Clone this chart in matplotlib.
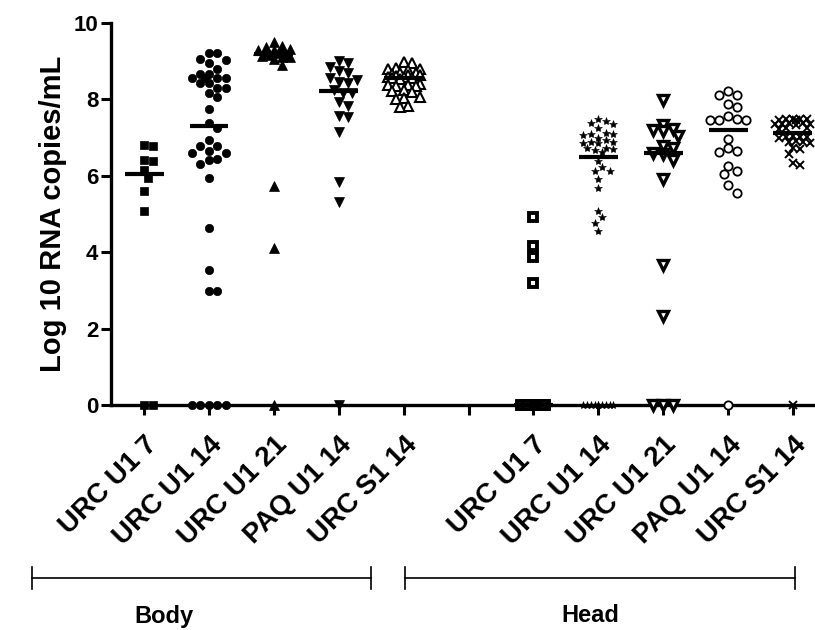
import numpy as np
import matplotlib
matplotlib.use('Agg')
import matplotlib.pyplot as plt
from matplotlib.lines import Line2D

plt.rcParams['font.family'] = ['Liberation Sans', 'DejaVu Sans']

# ---------------- data ----------------
body_labels = ['URC U1 7', 'URC U1 14', 'URC U1 21', 'PAQ U1 14', 'URC S1 14']
head_labels = ['URC U1 7', 'URC U1 14', 'URC U1 21', 'PAQ U1 14', 'URC S1 14']

body_urc_u1_7 = [6.81, 6.79, 6.42, 6.40, 6.15, 5.93, 5.60, 5.09, 0, 0]
body_urc_u1_14 = [9.22, 9.21, 9.05, 9.03, 8.94, 8.80, 8.66, 8.66, 8.55, 8.55, 8.55, 8.55,
                  8.44, 8.44, 8.29, 8.29, 8.16, 8.05, 7.75, 7.39, 7.24, 6.94, 6.78, 6.77,
                  6.64, 6.60, 6.60, 6.45, 6.41, 6.30, 5.93, 4.64, 3.53, 2.98, 2.98,
                  0, 0, 0, 0, 0]
body_urc_u1_21 = [9.51, 9.40, 9.38, 9.32, 9.29, 9.29, 9.29, 9.25, 9.22, 9.20, 9.16, 9.14,
                  9.12, 9.12, 9.05, 8.90, 5.72, 4.10, 0]
body_paq_u1_14 = [9.01, 8.94, 8.84, 8.75, 8.70, 8.57, 8.52, 8.46, 8.44, 8.25, 8.18, 8.18,
                  7.94, 7.83, 7.57, 7.53, 7.14, 5.85, 5.31, 0]
body_urc_s1_14 = [8.97, 8.95, 8.82, 8.80, 8.79, 8.77, 8.70, 8.68, 8.67, 8.65, 8.64, 8.60,
                  8.59, 8.58, 8.57, 8.56, 8.54, 8.40, 8.38, 8.37, 8.36, 8.34, 8.24, 8.22,
                  8.20, 8.06, 8.03, 8.01, 7.84, 7.80]

head_urc_u1_7 = [4.92, 4.17, 3.87, 3.19, 0, 0, 0, 0, 0, 0, 0, 0, 0, 0, 0, 0]
head_urc_u1_14 = [7.48, 7.44, 7.37, 7.36, 7.24, 7.13, 7.09, 7.09, 7.07, 7.00, 6.95, 6.89,
                  6.89, 6.87, 6.85, 6.72, 6.72, 6.69, 6.68, 6.61, 6.40, 6.22, 6.13, 6.13,
                  5.91, 5.69, 5.09, 4.91, 4.77, 4.55, 0, 0, 0, 0, 0, 0, 0, 0, 0, 0]
head_urc_u1_21 = [7.98, 7.33, 7.22, 7.20, 7.16, 7.03, 6.77, 6.72, 6.59, 6.57, 6.41, 5.91,
                  3.66, 2.33, 0, 0, 0]
head_paq_u1_14 = [8.22, 8.12, 8.12, 7.88, 7.81, 7.57, 7.48, 7.46, 7.46, 7.46, 6.96, 6.72,
                  6.66, 6.61, 6.26, 6.13, 6.04, 5.76, 5.56, 0]
head_urc_s1_14 = [7.50, 7.49, 7.48, 7.48, 7.47, 7.46, 7.38, 7.37, 7.36, 7.36, 7.35, 7.34,
                  7.25, 7.24, 7.23, 7.03, 7.02, 7.02, 7.01, 7.00, 6.90, 6.89, 6.88, 6.87,
                  6.73, 6.71, 6.57, 6.33, 6.28, 0]

groups = [body_urc_u1_7, body_urc_u1_14, body_urc_u1_21, body_paq_u1_14, body_urc_s1_14,
          None,
          head_urc_u1_7, head_urc_u1_14, head_urc_u1_21, head_paq_u1_14, head_urc_s1_14]
tick_labels = body_labels + [''] + head_labels

# marker styles: (marker, face, size, edge width, swarm spacing px)
styles = [('s', 'black', 5.5, 0.5, 8.5), ('o', 'black', 6.0, 0.5, 8.5),
          ('^', 'black', 6.5, 0.5, 8.0), ('v', 'black', 6.5, 0.5, 9.0),
          ('^', 'white', 6.5, 1.5, 8.0),
          None,
          ('s', 'white', 6.0, 2.8, 4.0), ('*', 'black', 6.0, 0.4, 7.5),
          ('v', 'white', 6.5, 2.4, 10.0), ('o', 'white', 6.0, 1.3, 9.0),
          ('x', 'black', 5.5, 1.4, 7.0)]

# ---------------- figure ----------------
W, H = 815, 630
fig = plt.figure(figsize=(W / 100, H / 100), dpi=100)
ax_l, ax_r, ax_t, ax_b = 111, 815, 23, 405
ax = fig.add_axes([ax_l / W, 1 - ax_b / H, (ax_r - ax_l) / W, (ax_b - ax_t) / H])
xmin, xmax = -0.51, 10.34
ax.set_xlim(xmin, xmax)
ax.set_ylim(0, 10)

px_x = (ax_r - ax_l) / (xmax - xmin)
px_y = (ax_b - ax_t) / 10.0


def swarm(vals, xc, diam=9.0, maxw=18.0):
    vals = np.asarray(vals, float)
    order = np.argsort(-vals, kind='stable')
    step = diam * 0.5
    cands = [0.0]
    k = 1
    while k * step <= maxw:
        cands += [k * step, -k * step]
        k += 1
    placed = []
    xs = np.zeros(len(vals))
    for i in order:
        y = vals[i] * px_y
        best, bestd = 0.0, -1
        for c in cands:
            d = min((np.hypot(c - p[0], y - p[1]) for p in placed), default=1e9)
            if d >= diam:
                best = c
                break
            if d > bestd:
                bestd, best = d, c
        placed.append((best, y))
        xs[i] = xc + best / px_x
    return xs


for i, (vals, st) in enumerate(zip(groups, styles)):
    if vals is None:
        continue
    vals = np.asarray(vals, float)
    mk, fc, ms, ew, sp = st
    xs = swarm(vals, i, diam=sp, maxw=15.0 if sp < 5 else 18.0)
    if mk == 'x':
        ax.plot(xs, vals, linestyle='none', marker=mk, color='black', ms=ms,
                mew=ew, clip_on=False, zorder=4)
    else:
        ax.plot(xs, vals, linestyle='none', marker=mk, mfc=fc, mec='black', ms=ms,
                mew=ew, clip_on=False, zorder=4)
    med = np.median(vals)
    ax.plot([i - 0.3, i + 0.3], [med, med], color='black', lw=3, zorder=5,
            solid_capstyle='butt', clip_on=False)

ax.set_xticks(range(11))
ax.set_xticklabels(tick_labels, rotation=45, ha='right', va='top',
                   rotation_mode='anchor', fontsize=20, fontweight='bold')
ax.set_yticks([0, 2, 4, 6, 8, 10])
ax.set_yticklabels(['0', '2', '4', '6', '8', '10'], fontsize=16, fontweight='bold')
ax.tick_params(axis='x', length=7, width=2.2, pad=12)
ax.tick_params(axis='y', length=7, width=2.2, pad=2)
for s in ['top', 'right']:
    ax.spines[s].set_visible(False)
for s in ['left', 'bottom']:
    ax.spines[s].set_linewidth(2.4)
ax.set_ylabel('Log 10 RNA copies/mL', fontsize=21, fontweight='bold', labelpad=5)

# group brackets
def bracket(x0, x1, y, label, lx):
    yf = 1 - y / H
    fig.add_artist(Line2D([x0 / W, x1 / W], [yf, yf], color='black', lw=1.2))
    for xx in (x0, x1):
        fig.add_artist(Line2D([xx / W, xx / W], [1 - 567 / H, 1 - 589 / H], color='black', lw=1.2))
    fig.text(lx / W, 1 - 616 / H, label, ha='center', va='center', fontsize=17,
             fontweight='bold')

bracket(32, 371, 578, 'Body', 164)
bracket(405, 795, 578, 'Head', 590)

fig.savefig('out.png', dpi=100)
